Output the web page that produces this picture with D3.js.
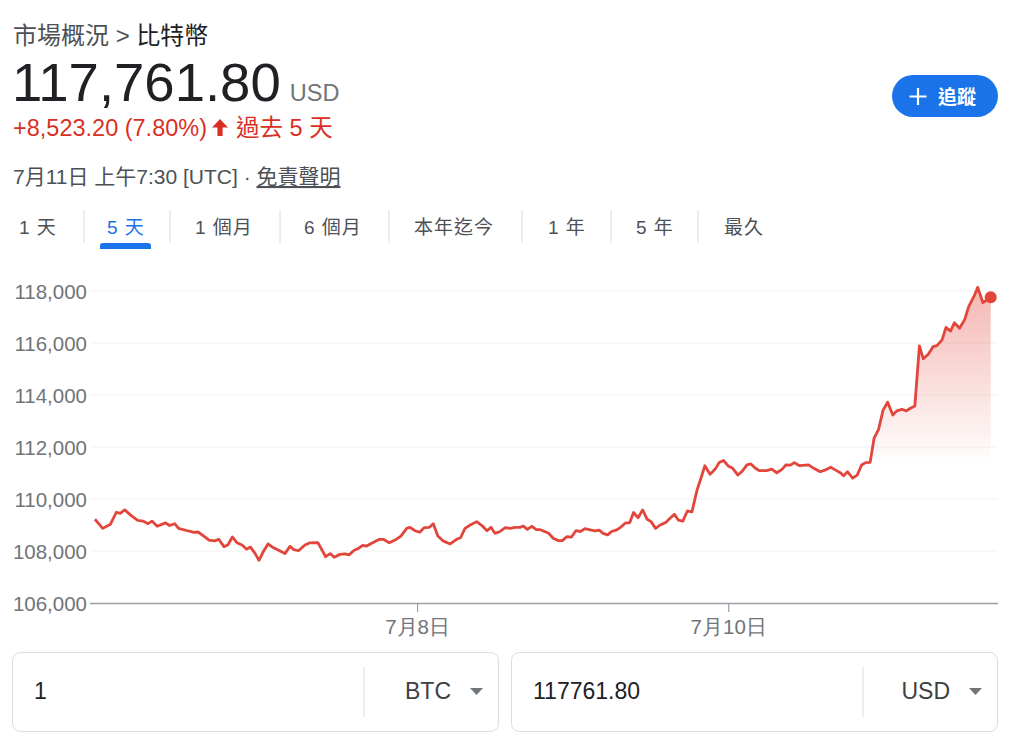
<!DOCTYPE html>
<html><head><meta charset="utf-8">
<script src="https://cdn.jsdelivr.net/npm/d3@7"></script>
<style>
html,body{margin:0;padding:0;background:#fff;}
svg{display:block;font-family:Arial,"Liberation Sans","Noto Sans CJK TC",sans-serif;}
</style></head>
<body><svg id="c" width="1026" height="742"></svg>
<script>
// ---- data ----
const startUTC = "2025-07-05T22:00:00Z";
const hoursSinceStart = [
0.3,1.5,2.7,3.6,4.2,4.9,5.9,6.9,7.7,8.5,9.1,9.9,11.2,11.8,12.6,13.2,14.7,15.6,16.2,17.0,17.9,18.8,19.4,20.2,20.8,21.5,22.2,23.0,23.7,24.3,25.0,25.6,26.2,27.0,27.8,28.5,29.6,30.4,31.0,31.7,32.7,33.4,34.7,
35.9,36.6,37.2,38.1,38.9,39.5,40.3,40.9,41.6,42.2,43.0,44.2,44.8,45.7,46.6,47.5,48.4,48.9,49.7,50.4,51.1,51.9,52.5,53.2,54.0,55.1,56.1,56.7,57.4,58.2,59.2,60.0,60.8,61.4,62.0,62.8,63.6,64.4,65.1,65.9,66.4,67.0,67.7,68.4,69.0,
69.5,70.3,71.0,71.8,72.4,73.1,73.8,74.5,75.2,75.9,76.7,77.5,78.1,78.7,79.4,80.0,80.8,81.4,82.1,82.8,83.4,84.1,84.8,85.5,86.1,86.8,87.5,88.4,88.9,89.7,90.3,91.0,91.7,92.4,93.2,93.8,94.4,95.2,96.0,96.6,97.3,98.0,98.7,99.5,100.2,100.9,101.5,
102.2,102.8,103.9,104.7,105.5,106.3,106.9,107.6,108.2,109.0,110.4,111.2,112.2,113.0,113.8,114.5,115.3,115.8,116.4,117.2,117.9,118.6,119.2,119.9,120.5,121.2,121.9,122.6,123.4,124.0,124.8,125.5,126.1,126.8,127.5,128.1,128.9,129.6,130.2,131.0,131.6,132.3,132.9,133.7,134.5,135.1,135.9,136.5,137.3,138.5
];
const prices = [
109220,108870,109030,109490,109450,109580,109360,109180,109150,109050,109150,108950,109080,108980,109050,108870,108770,108720,108730,108590,108420,108390,108450,108170,108230,108540,108320,108230,108070,108150,107910,107640,107940,108270,108130,108050,107900,108180,108050,108010,108230,108310,108320,
107780,107900,107760,107870,107890,107850,108030,108090,108220,108190,108300,108450,108450,108320,108420,108570,108870,108910,108780,108720,108900,108910,109050,108580,108390,108270,108450,108510,108870,109000,109130,108980,108780,108910,108680,108750,108900,108870,108910,108910,108960,108830,108950,108820,108820,
108770,108680,108490,108400,108400,108550,108530,108780,108750,108860,108810,108770,108800,108680,108620,108750,108810,108910,109070,109090,109480,109280,109580,109220,109130,108870,109000,109100,109230,109410,109190,109150,109540,109500,110350,110800,111280,110950,111150,111400,111480,111270,111180,110920,111080,111310,111350,
111180,111090,111090,111150,111010,111140,111310,111300,111400,111280,111310,111180,111050,111120,111220,111120,111010,110890,111050,110800,110920,111310,111400,111410,112330,112680,113420,113720,113230,113390,113450,113390,113490,113580,115890,115390,115580,115860,115900,116120,116600,116460,116780,116570,116910,117400,117780,118140,117550,117761.8
];
const yTickValues = [106000,108000,110000,112000,114000,116000,118000];
const xTickDates = ["2025-07-08T00:00:00Z","2025-07-10T00:00:00Z"];
const tabLabels = ["1 天","5 天","1 個月","6 個月","本年迄今","1 年","5 年","最久"];
const activeTab = "5 天";
const breadcrumb = ["市場概況 > ","比特幣"];
const lastPrice = "117,761.80";
const currency = "USD";
const changeText = "+8,523.20 (7.80%)";
const periodText = "過去 5 天";
const timeText = "7月11日 上午7:30 [UTC] · ";
const disclaimer = "免責聲明";
const followText = "追蹤";
const converter = [{amount:"1",unit:"BTC"},{amount:"117761.80",unit:"USD"}];

// ---- drawing ----
const svg = d3.select("#c");
const RED = "#e2463b";
const start = new Date(startUTC);
const data = hoursSinceStart.map((h,i)=>({t:new Date(start.getTime()+h*3600e3), v:prices[i]}));

const x = d3.scaleTime().domain([start, data[data.length-1].t]).range([93, 990.7]);
const y = d3.scaleLinear().domain([106000,118000]).range([603,291]);

// header
const hdr = svg.append("text").attr("x",13).attr("y",44).attr("font-size",24);
hdr.append("tspan").attr("fill","#4d5156").text(breadcrumb[0]);
hdr.append("tspan").attr("fill","#202124").text(breadcrumb[1]);

const pr = svg.append("text").attr("x",12).attr("y",101);
pr.append("tspan").attr("font-size",54.5).attr("fill","#202124").text(lastPrice);
pr.append("tspan").attr("dx",9).attr("font-size",23.5).attr("fill","#70757a").text(currency);

const ch = svg.append("text").attr("x",13).attr("y",136).attr("font-size",23.5).attr("fill","#d93025").text(changeText);
const chEnd = 13 + ch.node().getComputedTextLength();
const ax = chEnd + 13;
svg.append("path").attr("d",`M${ax},119 L${ax-8},127.5 L${ax-2.6},127.5 L${ax-2.6},136 L${ax+2.6},136 L${ax+2.6},127.5 L${ax+8},127.5 Z`).attr("fill","#d93025");
svg.append("text").attr("x",ax+16).attr("y",136).attr("font-size",23.5).attr("fill","#d93025").text(periodText);

const tt = svg.append("text").attr("x",13).attr("y",184).attr("font-size",21).attr("fill","#4d5156");
tt.append("tspan").text(timeText);
tt.append("tspan").attr("text-decoration","underline").text(disclaimer);

// follow button
svg.append("rect").attr("x",892).attr("y",75).attr("width",106).attr("height",42).attr("rx",21).attr("fill","#1a73e8");
svg.append("path").attr("d","M918,88 V105 M909.5,96.5 H926.5").attr("stroke","#fff").attr("stroke-width",2.2);
svg.append("text").attr("x",938).attr("y",104).attr("font-size",19).attr("font-weight","bold").attr("fill","#fff").text(followText);

// tabs
const tabX = [19,107,195,304,414,548,636,724];
const sepX = [84,170,280,389,522,611,698];
tabLabels.forEach((t,i)=>{
  svg.append("text").attr("x",tabX[i]).attr("y",234).attr("font-size",19)
    .attr("fill", t===activeTab ? "#1a73e8" : "#4d5156").attr("letter-spacing",1).text(t);
});
sepX.forEach(sx=>svg.append("line").attr("x1",sx).attr("x2",sx).attr("y1",210).attr("y2",243).attr("stroke","#dadce0"));
svg.append("path").attr("d","M100,249 V246 Q100,243 103,243 H148 Q151,243 151,246 V249 Z").attr("fill","#1a73e8");

// gridlines
svg.append("g").selectAll("line").data(yTickValues.slice(1)).join("line")
  .attr("x1",90).attr("x2",998).attr("y1",d=>y(d)).attr("y2",d=>y(d))
  .attr("stroke","#f1f1f1").attr("stroke-width",1.2);

// y axis labels
const yAxis = d3.axisLeft(y).tickValues(yTickValues).tickSize(0).tickPadding(0).tickFormat(d3.format(","));
const gy = svg.append("g").attr("transform","translate(87,0)").call(yAxis);
gy.select(".domain").remove();
gy.selectAll("text").attr("font-size",20.5).attr("fill","#70757a").attr("font-family",null).attr("dy","0.35em");

// area gradient
const defs = svg.append("defs");
const grad = defs.append("linearGradient").attr("id","g1").attr("gradientUnits","userSpaceOnUse")
  .attr("x1",0).attr("x2",0).attr("y1",y(118000)).attr("y2",y(111300));
grad.append("stop").attr("offset","0").attr("stop-color",RED).attr("stop-opacity",0.38);
grad.append("stop").attr("offset","1").attr("stop-color",RED).attr("stop-opacity",0);

svg.append("path").datum(data)
  .attr("d", d3.area().x(d=>x(d.t)).y0(y(106000)).y1(d=>y(d.v)))
  .attr("fill","url(#g1)");

// x axis
const xAxis = d3.axisBottom(x).tickValues(xTickDates.map(s=>new Date(s))).tickSize(9).tickSizeOuter(0)
  .tickFormat(d=>`${d.getUTCMonth()+1}月${d.getUTCDate()}日`);
const gx = svg.append("g").attr("transform",`translate(0,${y(106000)})`).call(xAxis);
gx.select(".domain").attr("d","M90,0.5H998").attr("stroke","#9aa0a6").attr("stroke-width",1.5);
gx.selectAll(".tick line").attr("stroke","#9aa0a6").attr("stroke-width",1.2);
gx.selectAll("text").attr("font-size",20.5).attr("fill","#70757a").attr("font-family",null).attr("dy","0.95em");

// line
svg.append("path").datum(data)
  .attr("d", d3.line().x(d=>x(d.t)).y(d=>y(d.v)))
  .attr("fill","none").attr("stroke",RED).attr("stroke-width",2.8).attr("stroke-linejoin","round");
const last = data[data.length-1];
svg.append("circle").attr("cx",x(last.t)).attr("cy",y(last.v)).attr("r",6).attr("fill",RED);

// converter boxes
const boxX = [12,511];
converter.forEach((c,i)=>{
  const bx = boxX[i];
  svg.append("rect").attr("x",bx+0.5).attr("y",652.5).attr("width",486).attr("height",79).attr("rx",8)
    .attr("fill","#fff").attr("stroke","#dadce0");
  svg.append("line").attr("x1",bx+352).attr("x2",bx+352).attr("y1",667).attr("y2",717).attr("stroke","#dadce0");
  svg.append("text").attr("x",bx+22).attr("y",699).attr("font-size",23).attr("fill","#202124").text(c.amount);
  svg.append("text").attr("x",bx+439).attr("y",699).attr("text-anchor","end").attr("font-size",23).attr("fill","#3c4043").text(c.unit);
  svg.append("path").attr("d",`M${bx+458},688 h13 l-6.5,7 z`).attr("fill","#70757a");
});
</script></body></html>
